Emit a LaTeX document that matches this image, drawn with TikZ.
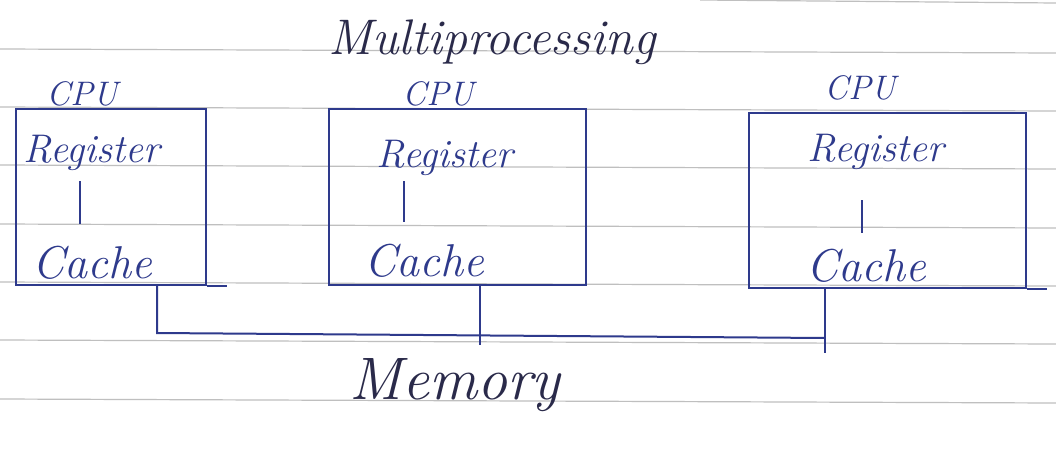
\documentclass[tikz,border=0pt]{standalone}
\definecolor{inkblue}{HTML}{2E3A8C}
\definecolor{inkdark}{HTML}{2A2A4A}
\begin{document}
\begin{tikzpicture}[x=0.5pt,y=-0.5pt,
  ink/.style={draw=inkblue, line width=1pt},
  rule/.style={draw=gray!50, line width=0.6pt},
  reglbl/.style={text=inkblue, font=\itshape\fontsize{20}{22}\selectfont, inner sep=0pt},
  cachelbl/.style={text=inkblue, font=\itshape\fontsize{23}{25}\selectfont, inner sep=0pt},
  cpulbl/.style={text=inkblue, font=\itshape\fontsize{17}{19}\selectfont, inner sep=0pt},
  head/.style={text=inkdark, font=\itshape\fontsize{25}{27}\selectfont, inner sep=0pt},
  memlbl/.style={text=inkdark, font=\itshape\fontsize{30}{32}\selectfont, inner sep=0pt},
  cpubox/.style={draw=inkblue, line width=1pt, rectangle, inner sep=0pt, anchor=north west}
]
\useasboundingbox (0,0) rectangle (1056,451);
\fill[white] (0,0) rectangle (1056,451);
% ruled paper
\foreach \y in {50,108,166,225,283,341,400}
  \draw[rule] (0,\y-1) -- (1056,\y+3);
\draw[rule] (700,0) -- (1056,3);

% title
\node[head] (title) at (492,42) {Multiprocessing};

% CPU boxes
\node[cpubox, minimum width=95pt, minimum height=88pt] (box1) at (15,108) {};
\node[cpubox, minimum width=128.5pt, minimum height=88pt] (box2) at (328,108) {};
\node[cpubox, minimum width=138.5pt, minimum height=87.5pt] (box3) at (748,112) {};
\draw[ink] (box1.south east) -- ++(20,0);
\draw[ink] (box3.south east) -- ++(20,0);

% CPU labels
\node[cpulbl] (cpu1) at (82,94) {CPU};
\node[cpulbl] (cpu2) at (438,94) {CPU};
\node[cpulbl] (cpu3) at (860,88) {CPU};

% Register / Cache
\node[reglbl] (reg1) at (92,153) {Register};
\node[reglbl] (reg2) at (445,158) {Register};
\node[reglbl] (reg3) at (876,152) {Register};
\node[cachelbl] (cac1) at (92,263) {Cache};
\node[cachelbl] (cac2) at (424,261) {Cache};
\node[cachelbl] (cac3) at (866,266) {Cache};

\draw[ink] ([xshift=-6pt,yshift=-5pt]reg1.south) -- ++(0,43);
\draw[ink] ([xshift=-20.5pt,yshift=-2.5pt]reg2.south) -- ++(0,41);
\draw[ink] ([xshift=-7pt,yshift=-15pt]reg3.south) -- ++(0,33);

% bus to memory
\coordinate (busL) at (157,333);
\coordinate (busR) at (825,338);
\coordinate (t2) at (480,345);
\coordinate (t3) at (825,353);
\draw[ink] (busL |- box1.south) -- (busL) -- (busR);
\draw[ink] (t2 |- box2.south) -- (t2);
\draw[ink] (t3 |- box3.south) -- (t3);

% memory
\node[memlbl] (mem) at (455,385) {Memory};
\end{tikzpicture}
\end{document}
